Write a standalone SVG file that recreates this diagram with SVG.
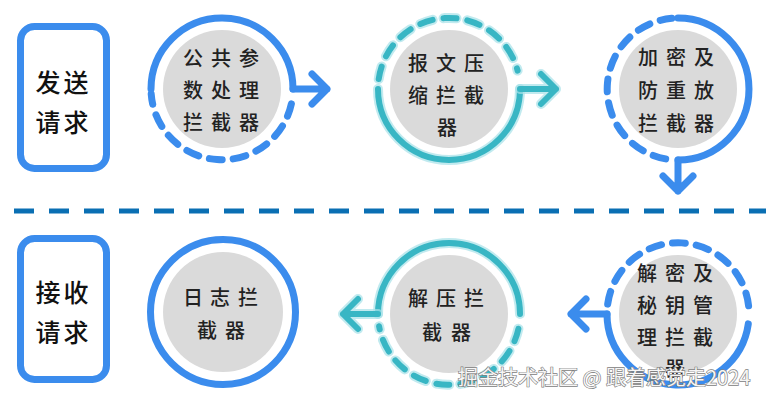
<svg xmlns="http://www.w3.org/2000/svg" width="770" height="400" viewBox="0 0 770 400">
<defs>
<style>
.box{fill:#fff;stroke:#3b8ced;stroke-width:7}
.gray{fill:#dadada}
.b{fill:none;stroke:#3b8ced;stroke-width:7;stroke-linecap:round;stroke-linejoin:round}
.bd{fill:none;stroke:#3b8ced;stroke-width:7;stroke-linecap:round;stroke-dasharray:13 11}
.tg{fill:none;stroke:#a6e1e8;stroke-width:10;stroke-linecap:round;stroke-linejoin:round;opacity:.7}
.tgd{fill:none;stroke:#a6e1e8;stroke-width:10;stroke-linecap:round;stroke-dasharray:13 11;opacity:.7}
.t{fill:none;stroke:#38b6c4;stroke-width:6;stroke-linecap:round;stroke-linejoin:round}
.td{fill:none;stroke:#38b6c4;stroke-width:6;stroke-linecap:round;stroke-dasharray:13 11}
.lbl{font-family:"Noto Sans CJK SC","Noto Sans",sans-serif;font-size:20px;font-weight:500;fill:#222}
.big{font-family:"Noto Sans CJK SC","Noto Sans",sans-serif;font-size:25px;font-weight:500;fill:#111}
.sep{fill:none;stroke:#0a6fb3;stroke-width:5;stroke-dasharray:20 15}
.wm{font-family:"Noto Sans CJK SC","Noto Sans",sans-serif;font-size:20px;fill:#f6f6f6;stroke:#808080;stroke-width:1.3;paint-order:stroke fill}
</style>
</defs>

<line class="sep" x1="14" y1="211" x2="766" y2="211"/>

<g id="send">
<rect class="box" x="20.5" y="26.5" width="86" height="142" rx="14"/>
<text class="big" x="35.5 63.5" y="91.5">发送</text>
<text class="big" x="35.5 63.5" y="131.5">请求</text>
</g>

<g id="receive">
<rect class="box" x="20.5" y="238.5" width="86" height="141" rx="14"/>
<text class="big" x="35.5 63.5" y="301.5">接收</text>
<text class="big" x="35.5 63.5" y="341.5">请求</text>
</g>

<g id="n1">
<circle class="gray" cx="222" cy="89" r="59"/>
<path class="b" d="M151 89 A71 71 0 0 1 293 89"/>
<path class="bd" d="M291.4 103.8 A71 71 0 0 1 151.2 94"/>
<text class="lbl" x="183 211 239" y="66">公共参</text>
<text class="lbl" x="183 211 239" y="98">数处理</text>
<text class="lbl" x="183 211 239" y="130">拦截器</text>
</g>

<g id="n2">
<circle class="gray" cx="449" cy="89" r="59"/>
<path class="tg" d="M520 89 A71 71 0 0 1 378 89"/>
<path class="tgd" d="M378.7 79.1 A71 71 0 0 1 517.6 70.6"/>
<path class="t" d="M520 89 A71 71 0 0 1 378 89"/>
<path class="td" d="M378.7 79.1 A71 71 0 0 1 517.6 70.6"/>
<text class="lbl" x="408 436 464" y="71">报文压</text>
<text class="lbl" x="408 436 464" y="103">缩拦截</text>
<text class="lbl" x="437" y="135">器</text>
</g>

<g id="n3">
<circle class="gray" cx="678" cy="89" r="59"/>
<path class="b" d="M678 18 A71 71 0 0 1 678 160"/>
<path class="bd" d="M665.7 158.9 A71 71 0 0 1 671.8 18.3"/>
<text class="lbl" x="638 666 694" y="65">加密及</text>
<text class="lbl" x="638 666 694" y="98">防重放</text>
<text class="lbl" x="638 666 694" y="131">拦截器</text>
</g>

<g id="n4">
<circle class="gray" cx="678" cy="314" r="59"/>
<path class="b" d="M748.3 323.9 A71 71 0 0 1 607 314"/>
<path class="bd" d="M607.7 304.1 A71 71 0 0 1 749 311.5"/>
<text class="lbl" x="637 665 693" y="281">解密及</text>
<text class="lbl" x="637 665 693" y="313">秘钥管</text>
<text class="lbl" x="637 665 693" y="345">理拦截</text>
<text class="lbl" x="665" y="376">器</text>
</g>

<g id="n5">
<circle class="gray" cx="449" cy="314" r="59"/>
<path class="tg" d="M378 314 A71 71 0 0 1 520 314"/>
<path class="tgd" d="M518.4 328.8 A71 71 0 0 1 379.1 326.3"/>
<path class="t" d="M378 314 A71 71 0 0 1 520 314"/>
<path class="td" d="M518.4 328.8 A71 71 0 0 1 379.1 326.3"/>
<text class="lbl" x="408 436 464" y="306">解压拦</text>
<text class="lbl" x="422 451" y="340">截器</text>
</g>

<g id="n6">
<circle class="gray" cx="223" cy="312" r="60"/>
<circle class="b" cx="223" cy="312" r="72.5"/>
<text class="lbl" x="183 210 238" y="305">日志拦</text>
<text class="lbl" x="197 225" y="338">截器</text>
</g>

<g id="connectors">
<path class="b" d="M293 89 H327 M312 74 L327 89 L312 104"/>
<path class="tg" d="M520 89 H556 M541 74 L556 89 L541 104"/>
<path class="t" d="M520 89 H556 M541 74 L556 89 L541 104"/>
<path class="b" d="M678 160 V191 M663 176 L678 191 L693 176"/>
<path class="b" d="M607 314 H571 M586 299 L571 314 L586 329"/>
<path class="tg" d="M378 314 H343 M358 299 L343 314 L358 329"/>
<path class="t" d="M378 314 H343 M358 299 L343 314 L358 329"/>
</g>

<text class="wm" x="458" y="385">掘金技术社区 @ 跟着感觉走2024</text>
</svg>
